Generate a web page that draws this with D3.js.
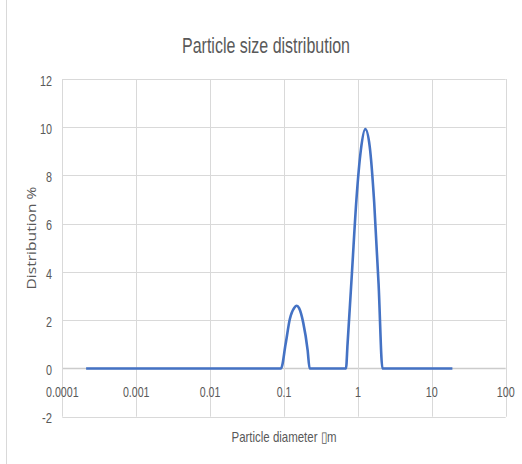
<!DOCTYPE html>
<html>
<head>
    <script type="text/javascript" src="https://cdn.jsdelivr.net/npm/d3@7/dist/d3.min.js"></script>
    <style>
        body { margin: 0; background: #fff; }
        text { fill: #595959; }
    </style>
</head>
<body>
    <div id="viz"></div>
    <script type="text/javascript">

    // particle diameter (um) and distribution (%)
    var diameter = [0.00021, 0.0912, 0.105, 0.120, 0.138, 0.149, 0.160, 0.182, 0.209, 0.222,
                    0.69, 0.724, 0.832, 0.955, 1.096, 1.259, 1.445, 1.660, 1.905, 2.15, 19];
    var distribution = [0, 0, 1.0, 2.05, 2.52, 2.6, 2.5, 1.9, 0.75, 0,
                        0, 1.0, 4.0, 7.0, 9.05, 9.92, 9.2, 6.9, 3.5, 0, 0];

    var xTicks = [0.0001, 0.001, 0.01, 0.1, 1, 10, 100];
    var xTickLabels = ["0.0001", "0.001", "0.01", "0.1", "1", "10", "100"];
    var yTicks = [-2, 0, 2, 4, 6, 8, 10, 12];

    var width = 522, height = 464;
    var plotLeft = 62.3, plotRight = 505.7;
    var plotTop = 79, plotBottom = 416.7;
    var gridColor = "#d9d9d9";
    var tickFont = "'Liberation Sans', sans-serif";

    // the tick font in the picture is condensed, squeeze to about that width
    function labelWidth(s) {
        var w = 0;
        for (var i = 0; i < s.length; i++) {
            var c = s.charAt(i);
            if (c === ".") w += 2.6;
            else if (c === "-") w += 4;
            else w += 6;
        }
        return w;
    }

    var svg = d3.select("#viz").append("svg")
        .attr("width", width)
        .attr("height", height);

    var x = d3.scaleLog().domain([0.0001, 100]).range([plotLeft, plotRight]);
    var y = d3.scaleLinear().domain([-2, 12]).range([plotBottom, plotTop]);

    // chart area border (only the left edge shows)
    svg.append("line")
        .attr("x1", 6.5).attr("x2", 6.5)
        .attr("y1", 0).attr("y2", height)
        .style("stroke", gridColor);

    // horizontal gridlines
    svg.selectAll(".hgrid").data(yTicks).enter().append("line")
        .attr("x1", plotLeft).attr("x2", plotRight)
        .attr("y1", function(d) { return Math.round(y(d)) + 0.5; })
        .attr("y2", function(d) { return Math.round(y(d)) + 0.5; })
        .style("stroke", function(d) { return d === 0 ? "#cccccc" : gridColor; })
        .style("stroke-width", function(d) { return d === 0 ? 1.5 : 1; });

    // vertical gridlines
    svg.selectAll(".vgrid").data(xTicks).enter().append("line")
        .attr("x1", function(d) { return Math.round(x(d)) + 0.5; })
        .attr("x2", function(d) { return Math.round(x(d)) + 0.5; })
        .attr("y1", plotTop).attr("y2", plotBottom)
        .style("stroke", gridColor);

    // y tick labels
    svg.selectAll(".ylab").data(yTicks).enter().append("text")
        .attr("x", 52)
        .attr("y", function(d) { return y(d) + 3; })
        .attr("text-anchor", "end")
        .attr("dominant-baseline", "middle")
        .attr("textLength", function(d) { return labelWidth(String(d)); })
        .attr("lengthAdjust", "spacingAndGlyphs")
        .style("font-family", tickFont)
        .style("font-size", "14px")
        .text(function(d) { return d; });

    // x tick labels sit just under the zero line
    svg.selectAll(".xlab").data(xTicks).enter().append("text")
        .attr("x", function(d) { return x(d); })
        .attr("y", y(0) + 25)
        .attr("text-anchor", "middle")
        .attr("dominant-baseline", "middle")
        .attr("textLength", function(d, i) { return labelWidth(xTickLabels[i]); })
        .attr("lengthAdjust", "spacingAndGlyphs")
        .style("font-family", tickFont)
        .style("font-size", "14px")
        .text(function(d, i) { return xTickLabels[i]; });

    // the series
    var pts = diameter.map(function(d, i) { return [d, distribution[i]]; });
    var line = d3.line()
        .x(function(d) { return x(d[0]); })
        .y(function(d) { return y(d[1]); })
        .curve(d3.curveMonotoneX);

    svg.append("path")
        .datum(pts)
        .attr("d", line)
        .style("fill", "none")
        .style("stroke", "#4472C4")
        .style("stroke-width", 2.6)
        .style("stroke-linejoin", "round");

    // titles
    svg.append("text")
        .attr("x", 266).attr("y", 53)
        .attr("text-anchor", "middle")
        .attr("textLength", 168)
        .attr("lengthAdjust", "spacingAndGlyphs")
        .style("font-family", "'Liberation Sans', sans-serif")
        .style("font-size", "22px")
        .text("Particle size distribution");

    svg.append("text")
        .attr("x", 284).attr("y", 442)
        .attr("text-anchor", "middle")
        .attr("textLength", 105)
        .attr("lengthAdjust", "spacingAndGlyphs")
        .style("font-family", "'Liberation Sans', sans-serif")
        .style("font-size", "14.5px")
        .text("Particle diameter \u25AFm");

    svg.append("text")
        .attr("transform", "translate(36,238) rotate(-90)")
        .attr("text-anchor", "middle")
        .attr("textLength", 103)
        .attr("lengthAdjust", "spacingAndGlyphs")
        .style("font-family", "'Open Sans', sans-serif")
        .style("font-size", "13px")
        .text("Distribution %");

    </script>
</body>
</html>
